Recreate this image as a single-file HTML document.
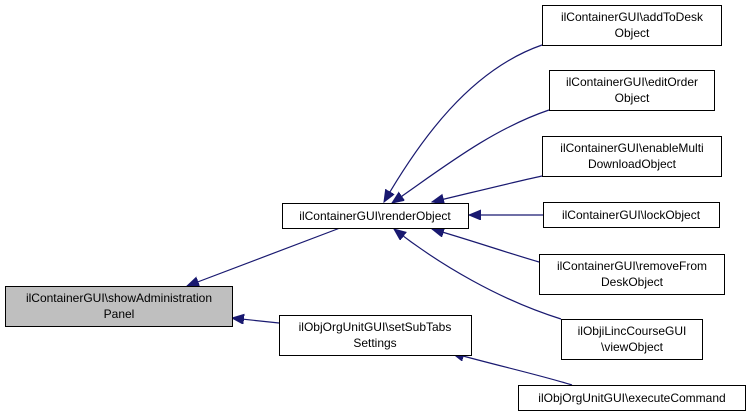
<!DOCTYPE html>
<html><head><meta charset="utf-8"><style>
body{margin:0;background:#fff;}
svg{display:block;}
text{font-family:"Liberation Sans",Helvetica,Arial,sans-serif;font-size:12px;fill:#000;}
</style></head><body>
<svg width="751" height="417" viewBox="0 0 751 417" xmlns="http://www.w3.org/2000/svg">
<defs>
<marker id="a" markerUnits="userSpaceOnUse" markerWidth="14" markerHeight="12" refX="12" refY="5" orient="auto">
<path d="M0,0 L12,5 L0,10 z" fill="#191970" stroke="#191970"/>
</marker>
</defs>
<g fill="none" stroke="#191970" stroke-width="1.2">
<path d="M542,45 C470,70 420,140 384,202" marker-end="url(#a)"/>
<path d="M549,110 C490,130 440,170 392,203" marker-end="url(#a)"/>
<path d="M542,176 C510,183 470,193 432,202" marker-end="url(#a)"/>
<path d="M543,215 L469,215" marker-end="url(#a)"/>
<path d="M539,262 C505,252 470,240 432,229" marker-end="url(#a)"/>
<path d="M561,319 C500,300 440,265 394,229" marker-end="url(#a)"/>
<path d="M572,385 C540,375 495,365 452,353" marker-end="url(#a)"/>
<path d="M340,228 L187,286" marker-end="url(#a)"/>
<path d="M279,323 L232,318" marker-end="url(#a)"/>
</g>
<g stroke="#000" stroke-width="1">
<rect x="5.5" y="286.5" width="227" height="40" fill="#bfbfbf"/>
<rect x="282.5" y="203.5" width="186" height="25" fill="#fff"/>
<rect x="279.5" y="315.5" width="192" height="40" fill="#fff"/>
<rect x="542.5" y="5.5" width="179" height="40" fill="#fff"/>
<rect x="549.5" y="70.5" width="165" height="40" fill="#fff"/>
<rect x="542.5" y="136.5" width="179" height="40" fill="#fff"/>
<rect x="543.5" y="202.5" width="176" height="25" fill="#fff"/>
<rect x="539.5" y="254.5" width="185" height="40" fill="#fff"/>
<rect x="561.5" y="319.5" width="141" height="40" fill="#fff"/>
<rect x="518.5" y="385.5" width="227" height="25" fill="#fff"/>
</g>
<g text-anchor="middle">
<text x="119" y="302">ilContainerGUI\showAdministration</text>
<text x="119" y="318">Panel</text>
<text x="375" y="220">ilContainerGUI\renderObject</text>
<text x="375" y="331">ilObjOrgUnitGUI\setSubTabs</text>
<text x="375" y="347">Settings</text>
<text x="632" y="21">ilContainerGUI\addToDesk</text>
<text x="632" y="37">Object</text>
<text x="632" y="86">ilContainerGUI\editOrder</text>
<text x="632" y="102">Object</text>
<text x="632" y="152">ilContainerGUI\enableMulti</text>
<text x="632" y="168">DownloadObject</text>
<text x="631" y="219">ilContainerGUI\lockObject</text>
<text x="632" y="270">ilContainerGUI\removeFrom</text>
<text x="632" y="286">DeskObject</text>
<text x="632" y="335">ilObjiLincCourseGUI</text>
<text x="632" y="351">\viewObject</text>
<text x="632" y="402">ilObjOrgUnitGUI\executeCommand</text>
</g>
</svg>
</body></html>
